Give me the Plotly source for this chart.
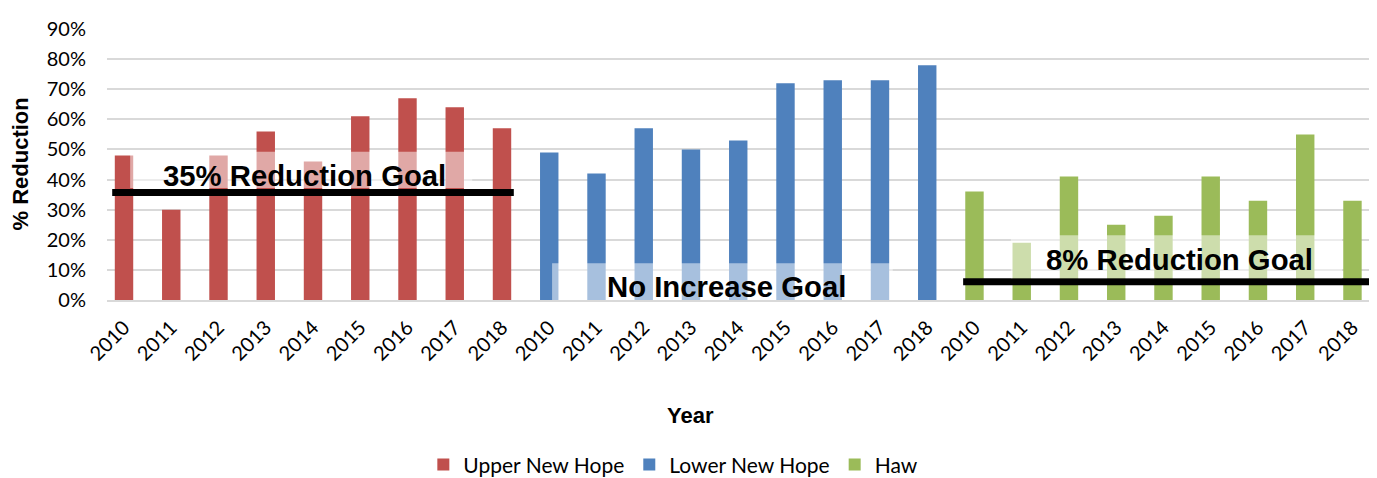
import plotly.graph_objects as go

years = ['2010', '2011', '2012', '2013', '2014', '2015', '2016', '2017', '2018']
upper_new_hope = [48, 30, 48, 56, 46, 61, 67, 64, 57]
lower_new_hope = [49, 42, 57, 50, 53, 72, 73, 73, 78]
haw = [36, 19, 41, 25, 28, 41, 33, 55, 33]

goal_labels = ['35% Reduction Goal', 'No Increase Goal', '8% Reduction Goal']
goal_levels = [35.7, 0, 6.1]

n = len(years)
x_upper = list(range(0, n))
x_lower = list(range(n, 2 * n))
x_haw = list(range(2 * n, 3 * n))

font = 'Lato, Liberation Sans, Arial, sans-serif'
bold_font = 'Liberation Sans, Arial, sans-serif'

fig = go.Figure()
for name, xs, ys, color in [
    ('Upper New Hope', x_upper, upper_new_hope, '#C0504D'),
    ('Lower New Hope', x_lower, lower_new_hope, '#4F81BD'),
    ('Haw', x_haw, haw, '#9BBB59'),
]:
    fig.add_trace(go.Bar(x=xs, y=ys, name=name, width=0.39,
                         marker=dict(color=color, line=dict(width=0))))

# goal lines (the "No Increase" goal sits on the 0% baseline)
fig.add_shape(type='line', x0=-0.25, x1=8.25, y0=goal_levels[0], y1=goal_levels[0],
              line=dict(color='black', width=7), layer='above')
fig.add_shape(type='line', x0=17.76, x1=26.35, y0=goal_levels[2], y1=goal_levels[2],
              line=dict(color='black', width=7), layer='above')

# translucent label boxes
boxes = [(0.13, 7.37, 37.2, 49.2), (9.06, 16.27, 0, 12.2), (18.77, 25.78, 7.2, 21.5)]
for x0, x1, y0, y1 in boxes:
    fig.add_shape(type='rect', x0=x0, x1=x1, y0=y0, y1=y1, layer='above',
                  fillcolor='rgba(255,255,255,0.5)', line=dict(width=0))

label_pos = [(3.81, 41.5), (12.76, 4.5), (22.33, 13.5)]
for (lx, ly), text in zip(label_pos, goal_labels):
    fig.add_annotation(x=lx, y=ly, text=text, showarrow=False,
                       font=dict(family=bold_font, size=29.3, color='black', weight='bold'))

fig.add_annotation(text='% Reduction', xref='paper', yref='paper', x=0, y=0.5,
                   xanchor='center', yanchor='middle',
                   xshift=-87, textangle=-90, showarrow=False,
                   font=dict(family=bold_font, size=22, color='black', weight='bold'))
fig.add_annotation(text='Year', xref='paper', yref='paper', x=0.5, y=0,
                   xanchor='center', yanchor='middle',
                   xshift=-48, yshift=-115, showarrow=False,
                   font=dict(family=bold_font, size=22, color='black', weight='bold'))

# page body has an 8px margin, so the figure is 8px smaller than the window
fig.update_layout(
    width=1369, height=470,
    template='plotly_white',
    plot_bgcolor='white', paper_bgcolor='white',
    margin=dict(l=99, r=8, t=11, b=178),
    barmode='overlay',
    font=dict(family=font, size=20, color='black'),
    xaxis=dict(
        range=[-0.36, 26.35],
        tickvals=x_upper + x_lower + x_haw,
        ticktext=years * 3,
        tickangle=-45,
        showgrid=False, zeroline=False,
        showline=True, linecolor='#D9D9D9', linewidth=2,
        ticks='', ticklabelstandoff=6,
    ),
    yaxis=dict(
        range=[0, 90], dtick=10, ticksuffix='%',
        showgrid=True, gridcolor='#D9D9D9', gridwidth=1.5,
        zeroline=False, ticks='', ticklabelstandoff=20,
        ticklabeloverflow='allow',
    ),
    legend=dict(
        orientation='h', xref='container', yref='container',
        x=0.486, xanchor='center', y=0.028, yanchor='middle',
        font=dict(size=21), itemwidth=30,
    ),
    showlegend=True,
)

fig.write_html('out.html')
